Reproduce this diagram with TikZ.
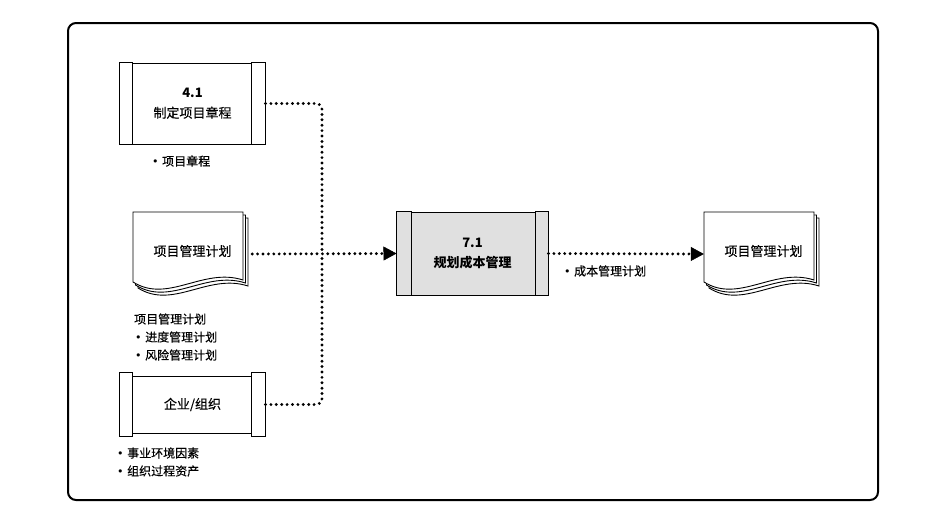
\documentclass[tikz,border=0pt]{standalone}
\usepackage{fontspec}
\setmainfont{Noto Sans CJK SC}[UprightFeatures={FakeBold=0.3}]
\newfontfamily\bulfont{DejaVu Sans}
\newcommand\bul{{\bulfont\fontsize{11}{11}\selectfont\char"2022}\hspace{3.5pt}}
\usetikzlibrary{arrows.meta,calc}
\definecolor{procgray}{HTML}{E0E0E0}
\begin{document}
\begin{tikzpicture}[x=1pt,y=-1pt,
  box/.style={draw,line width=1pt,fill=white,minimum width=145pt,minimum height=81pt,inner sep=0pt,font=\fontsize{13}{20}\selectfont,align=center},
  bar/.style={draw,line width=1pt,fill=white},
  lbl/.style={anchor=west,inner sep=0pt,font=\fontsize{12}{14}\selectfont},
  doctext/.style={inner sep=0pt,font=\fontsize{13}{16}\selectfont},
  dotl/.style={line width=3.2pt,dash pattern=on 0pt off 5.4pt,line cap=round},
  tip/.style={-{Triangle[length=13pt,width=14pt,line width=0.5pt]}},
  docsheet/.pic={\draw[line width=0.9pt,fill=white] (0,0) -- (110,0) -- (110,68) .. controls (70,55) and (35,92) .. (0,70) -- cycle;}
]
\useasboundingbox (0,0) rectangle (944,528);
% frame
\draw[line width=2pt,rounded corners=8pt] (68,23) rectangle (878,500);

% 4.1 process
\node[box] (p41) at (192.5,103.5) {\textbf{4.1}\\制定项目章程};
\draw[bar] (p41.north west) rectangle ([xshift=13pt]p41.south west);
\draw[bar] (p41.north east) rectangle ([xshift=-14pt]p41.south east);
\node[lbl] (l41) at (152,161) {\bul 项目章程};

% document: project management plan (input)
\pic at (138,218) {docsheet};
\pic at (135.5,215) {docsheet};
\pic at (133,212) {docsheet};
\node[minimum width=119pt,minimum height=84pt,inner sep=0pt] (doc1) at (192.5,254) {};
\node[doctext] (doc1t) at ([yshift=3pt]doc1.center) {项目管理计划};
\node[lbl] (lpm) at (134,319) {项目管理计划};
\node[lbl] (lpm1) at (135,337) {\bul 进度管理计划};
\node[lbl] (lpm2) at (135,355) {\bul 风险管理计划};

% enterprise/organization
\node[box,minimum height=57pt] (org) at (192.5,404.5) {企业/组织};
\draw[bar] ([yshift=3pt]org.north west) rectangle ([xshift=13pt,yshift=-3pt]org.south west);
\draw[bar] ([yshift=3pt]org.north east) rectangle ([xshift=-14pt,yshift=-3pt]org.south east);
\node[lbl] (lorg1) at (117,453) {\bul 事业环境因素};
\node[lbl] (lorg2) at (117,471) {\bul 组织过程资产};

% 7.1 process
\node[box,fill=procgray,minimum width=151pt,minimum height=83pt,font=\fontsize{13}{20}\selectfont\bfseries] (p71) at (472.5,253.5) {7.1\\规划成本管理};
\draw[bar,fill=procgray] (p71.north west) rectangle ([xshift=15pt]p71.south west);
\draw[bar,fill=procgray] (p71.north east) rectangle ([xshift=-13pt]p71.south east);

% output document
\pic at (709,218) {docsheet};
\pic at (706.5,215) {docsheet};
\pic at (704,212) {docsheet};
\node[minimum width=119pt,minimum height=84pt,inner sep=0pt] (doc2) at (763.5,254) {};
\node[doctext] (doc2t) at ([yshift=3pt]doc2.center) {项目管理计划};
\node[lbl] (lout) at (564,271) {\bul 成本管理计划};

% connectors
\coordinate (jn) at (322,254);
\draw[dotl,rounded corners=6pt] (p41.east) -- (p41.east -| jn) -- (jn);
\draw[dotl,rounded corners=6pt] (org.east) -- (org.east -| jn) -- (jn);
\draw[dotl,tip] (doc1.east) -- (p71.west);
\draw[dotl,tip] (p71.east) -- (doc2.west);
\end{tikzpicture}
\end{document}
